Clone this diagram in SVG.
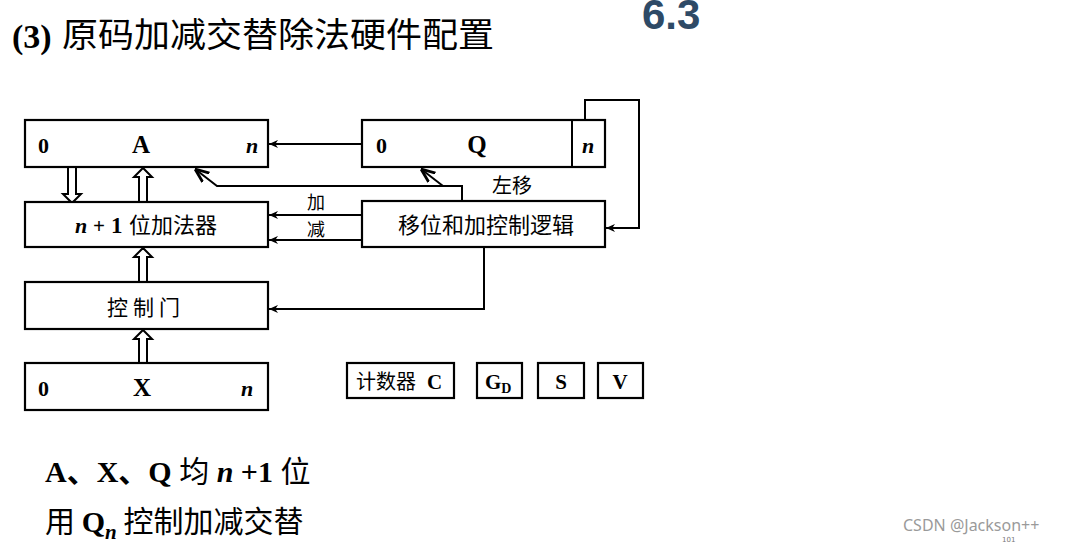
<svg xmlns="http://www.w3.org/2000/svg" width="1080" height="545" viewBox="0 0 1080 545">
<style>
.box{fill:#fff;stroke:#000;stroke-width:2.2}
.ln{fill:none;stroke:#000;stroke-width:2}
.ha{fill:#fff;stroke:#000;stroke-width:2}
.b{font-family:"Liberation Serif","Noto Sans CJK SC",serif;font-weight:bold;fill:#000}
.bi{font-family:"Liberation Serif",serif;font-weight:bold;font-style:italic;fill:#000}
.cn{font-family:"Noto Sans CJK SC","Liberation Sans",sans-serif;fill:#000}
</style>
<defs>
<marker id="ah" viewBox="0 0 10 10" refX="10" refY="5" markerWidth="9" markerHeight="9" markerUnits="userSpaceOnUse" orient="auto">
<path d="M0,0.5 L10,5 L0,9.5 L3,5 Z" fill="#000"/>
</marker>
<marker id="ah2" viewBox="0 0 10 10" refX="10" refY="5" markerWidth="14" markerHeight="14" markerUnits="userSpaceOnUse" orient="auto">
<path d="M0,1 L10,5 L0,9" fill="none" stroke="#000" stroke-width="2"/>
</marker>
</defs>
<rect width="1080" height="545" fill="#fff"/>

<g id="title">
<text x="12" y="48" class="b" font-size="34">(3)</text>
<text x="62" y="47" class="cn" font-size="34" textLength="432" lengthAdjust="spacingAndGlyphs">原码加减交替除法硬件配置</text>
<text x="642" y="29" font-family="Liberation Sans,Arial,sans-serif" font-weight="bold" font-size="42" fill="#2e4a66">6.3</text>
</g>

<g id="connectors">
<line class="ln" x1="362" y1="144" x2="269" y2="144" marker-end="url(#ah)"/>
<polyline class="ln" points="462,201 462,186 217,186 195,169" marker-end="url(#ah2)"/>
<line class="ln" x1="443" y1="186" x2="421" y2="169" marker-end="url(#ah2)"/>
<polyline class="ln" points="585,120 585,100 639,100 639,228 606,228" marker-end="url(#ah)"/>
<line class="ln" x1="362" y1="215" x2="269" y2="215" marker-end="url(#ah)"/>
<line class="ln" x1="362" y1="240" x2="269" y2="240" marker-end="url(#ah)"/>
<polyline class="ln" points="484,247 484,309 269,309" marker-end="url(#ah)"/>
<polyline class="ha" points="68,167 68,194 63,194 72,203 81,194 76,194 76,167"/>
<polyline class="ha" points="139,202 139,177 134,177 143,168 152,177 147,177 147,202"/>
<polyline class="ha" points="139,282 139,257 134,257 143,248 152,257 147,257 147,282"/>
<polyline class="ha" points="139,363 139,339 134,339 143,330 152,339 147,339 147,363"/>
</g>

<g id="regA">
<rect class="box" x="25" y="120" width="243" height="47"/>
<text x="38" y="153" class="b" font-size="22">0</text>
<text x="141" y="153" class="b" font-size="25" text-anchor="middle">A</text>
<text x="246" y="153" class="bi" font-size="22">n</text>
</g>

<g id="regQ">
<rect class="box" x="362" y="120" width="243" height="47"/>
<line class="ln" x1="572" y1="120" x2="572" y2="167"/>
<text x="376" y="153" class="b" font-size="22">0</text>
<text x="477" y="153" class="b" font-size="25" text-anchor="middle">Q</text>
<text x="582" y="153" class="bi" font-size="22">n</text>
</g>

<g id="adder">
<rect class="box" x="25" y="202" width="243" height="45"/>
<text x="75" y="233" class="bi" font-size="22">n</text>
<text x="93" y="233" class="b" font-size="21">+</text>
<text x="111" y="233" class="b" font-size="23">1</text>
<text x="129" y="233" class="cn" font-size="22">位加法器</text>
</g>

<g id="shiftctrl">
<rect class="box" x="362" y="201" width="243" height="46"/>
<text x="486" y="233" class="cn" font-size="22" text-anchor="middle">移位和加控制逻辑</text>
</g>

<g id="labels">
<text x="316" y="209" class="cn" font-size="18" text-anchor="middle">加</text>
<text x="316" y="236" class="cn" font-size="18" text-anchor="middle">减</text>
<text x="492" y="193" class="cn" font-size="20">左移</text>
</g>

<g id="gate">
<rect class="box" x="25" y="282" width="243" height="47"/>
<text x="146" y="315" class="cn" font-size="21" text-anchor="middle" letter-spacing="5">控制门</text>
</g>

<g id="regX">
<rect class="box" x="25" y="363" width="243" height="47"/>
<text x="38" y="396" class="b" font-size="22">0</text>
<text x="142" y="396" class="b" font-size="25" text-anchor="middle">X</text>
<text x="241" y="396" class="bi" font-size="22">n</text>
</g>

<g id="counter">
<rect class="box" x="347" y="363" width="107" height="35"/>
<text x="356" y="389" class="cn" font-size="20">计数器</text>
<text x="427" y="389" class="b" font-size="21">C</text>
</g>
<g id="gd">
<rect class="box" x="477" y="363" width="45" height="35"/>
<text x="485" y="389" class="b" font-size="21">G<tspan font-size="14" dy="4">D</tspan></text>
</g>
<g id="s">
<rect class="box" x="538" y="363" width="46" height="35"/>
<text x="561" y="389" class="b" font-size="21" text-anchor="middle">S</text>
</g>
<g id="v">
<rect class="box" x="598" y="363" width="45" height="35"/>
<text x="620" y="389" class="b" font-size="21" text-anchor="middle">V</text>
</g>

<g id="notes">
<text x="45" y="482" class="b" font-size="30">A、X、Q <tspan class="cn" font-weight="normal">均</tspan> <tspan font-style="italic">n</tspan> +1 <tspan class="cn" font-weight="normal">位</tspan></text>
<text x="45" y="532" class="cn" font-size="30">用 <tspan class="b">Q</tspan><tspan class="bi" font-size="21" dy="7">n</tspan><tspan dy="-7"> 控制加减交替</tspan></text>
</g>

<g id="watermark">
<text x="903" y="531" font-family="Noto Sans,DejaVu Sans,sans-serif" font-size="16" fill="#9a9a9a">CSDN @Jackson++</text>
<text x="1002" y="542" font-family="DejaVu Sans,sans-serif" font-size="7" fill="#777">101</text>
</g>
</svg>
